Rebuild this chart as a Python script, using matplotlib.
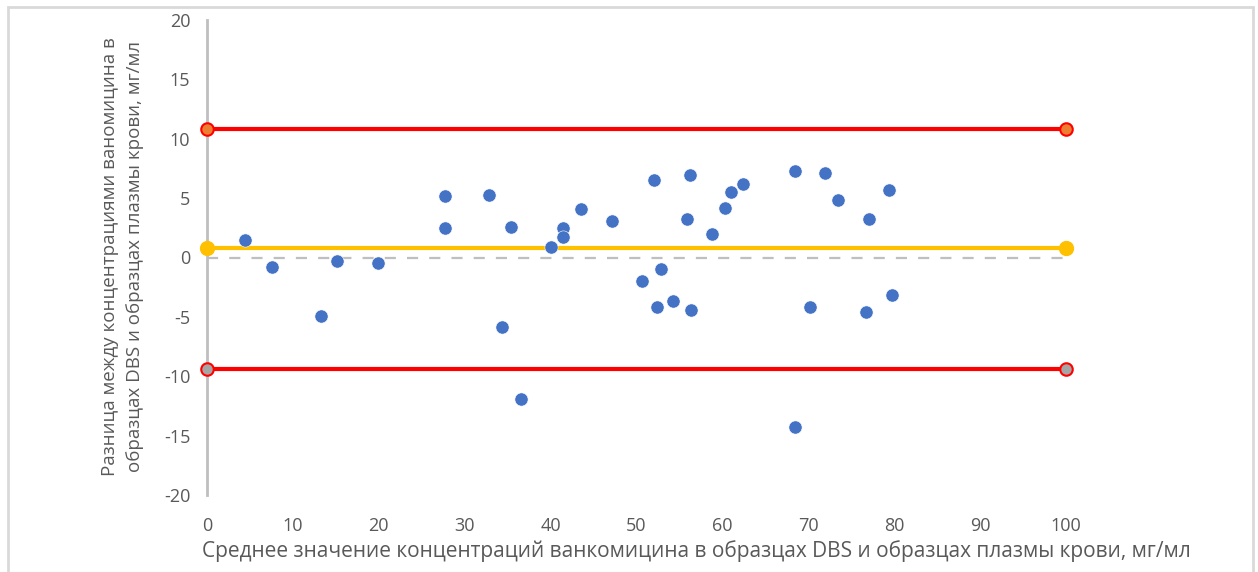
import matplotlib.pyplot as plt
from matplotlib.patches import Rectangle

plt.rcParams["axes.unicode_minus"] = False

# Bland-Altman data: mean concentration vs difference
mean_conc = [4.4, 7.6, 13.3, 15.1, 19.9, 27.7, 27.7, 32.8, 34.3, 35.4,
             36.6, 40.0, 41.5, 41.5, 43.5, 47.2, 50.6, 52.0, 52.4, 52.8,
             54.2, 55.9, 56.2, 56.4, 58.8, 60.3, 61.0, 62.4, 68.5, 68.5,
             70.2, 71.9, 73.4, 76.7, 77.1, 79.4, 79.8]
diff_conc = [1.47, -0.8, -4.9, -0.3, -0.46, 5.2, 2.5, 5.3, -5.85, 2.6,
             -11.9, 0.9, 2.5, 1.75, 4.05, 3.07, -2.0, 6.5, -4.14, -0.97,
             -3.7, 3.27, 6.95, -4.39, 1.95, 4.14, 5.54, 6.16, 7.31, -14.25,
             -4.14, 7.14, 4.84, -4.56, 3.27, 5.71, -3.16]

line_x = [0, 100]
mean_diff = 0.77
upper_loa = 10.8
lower_loa = -9.36

xticks = list(range(0, 101, 10))
yticks = list(range(-20, 21, 5))

grey_txt = "#595959"
font = "Open Sans"

fig = plt.figure(figsize=(12.58, 5.72), dpi=100)
W, H = 1258, 572
ax = fig.add_axes([207 / W, (H - 495) / H, (1066 - 207) / W, (495 - 20) / H])

# frame around the chart
fig.patches.append(Rectangle((8 / W, -0.01), (1253 - 8) / W, (H - 7) / H + 0.01,
                             transform=fig.transFigure, fill=False,
                             edgecolor="#d9d9d9", linewidth=2))

ax.plot(line_x, [0, 0], color="#bfbfbf", linewidth=1.6, dashes=(5, 5), zorder=1)
ax.plot(line_x, [upper_loa, upper_loa], color="#ff0000", linewidth=3, zorder=2,
        marker="o", markersize=9, markerfacecolor="#ED7D31", markeredgecolor="#ff0000",
        markeredgewidth=1.5)
ax.plot(line_x, [lower_loa, lower_loa], color="#ff0000", linewidth=3, zorder=2,
        marker="o", markersize=9, markerfacecolor="#A5A5A5", markeredgecolor="#ff0000",
        markeredgewidth=1.5)
ax.plot(line_x, [mean_diff, mean_diff], color="#FFC000", linewidth=3, zorder=2,
        marker="o", markersize=10, markerfacecolor="#FFC000", markeredgecolor="#FFC000")

ax.plot(mean_conc, diff_conc, linestyle="none", marker="o", markersize=9.5,
        color="#4472C4", markeredgecolor="white", markeredgewidth=0.4, zorder=3)

ax.set_xlim(0, 100)
ax.set_ylim(-20, 20)
ax.set_xticks(xticks)
ax.set_yticks(yticks)
for side in ["top", "right", "bottom"]:
    ax.spines[side].set_visible(False)
ax.spines["left"].set_color("#bfbfbf")
ax.spines["left"].set_linewidth(2)
ax.spines["left"].set_zorder(0)
ax.tick_params(axis="both", length=0, labelsize=13, labelcolor=grey_txt)
ax.tick_params(axis="x", pad=16)
ax.tick_params(axis="y", pad=12)
for lbl in ax.get_xticklabels() + ax.get_yticklabels():
    lbl.set_fontfamily(font)
ax.patch.set_alpha(0)
for ln in ax.lines:
    ln.set_clip_on(False)

fig.text(696 / W, (H - 551) / H,
         "Среднее значение концентраций ванкомицина в образцах DBS и образцах плазмы крови, мг/мл",
         ha="center", va="center", fontsize=15, color=grey_txt, family=font)
fig.text(123 / W, (H - 257) / H,
         "Разница между концентрациями ваномицина в\nобразцах DBS и образцах плазмы крови, мг/мл",
         ha="center", va="center", rotation=90, fontsize=13.5, color=grey_txt,
         family=font, multialignment="center", linespacing=1.5)

fig.savefig("out.png", dpi=100)
